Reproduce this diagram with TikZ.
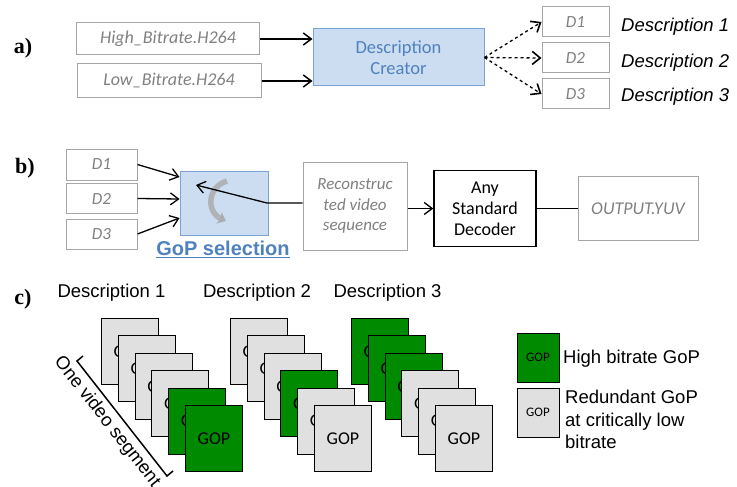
\documentclass[tikz,border=0pt]{standalone}
\usepackage{fontspec}
\setmainfont{Carlito}
\setsansfont{Liberation Sans}
\newfontfamily\labelfont{Liberation Serif}
\usetikzlibrary{arrows.meta}

\definecolor{boxgrey}{HTML}{A6A6A6}
\definecolor{textgrey}{HTML}{808080}
\definecolor{selfill}{HTML}{CCDDF1}
\definecolor{seldraw}{HTML}{7BA3D6}
\definecolor{seltext}{HTML}{4F81BD}
\definecolor{gopgreen}{HTML}{008A00}
\definecolor{gopgrey}{HTML}{E0E0E0}

\tikzset{
  file/.style={draw=boxgrey, line width=1pt, text=textgrey, inner sep=0pt,
    font=\fontsize{18}{21}\selectfont\itshape},
  dfile/.style={file, minimum width=67pt, minimum height=30pt,
    font=\fontsize{17}{20}\selectfont\itshape},
  blue box/.style={draw=seldraw, fill=selfill, line width=1pt, inner sep=0pt},
  gop/.style={draw, line width=1pt, anchor=north west, minimum width=57pt,
    minimum height=66pt, inner sep=0pt, font=\fontsize{18}{21}\selectfont},
  gophi/.style={fill=gopgreen},
  goplo/.style={fill=gopgrey},
  part/.style={font=\labelfont\bfseries\fontsize{22}{26}\selectfont},
  desc/.style={inner sep=0pt, font=\sffamily\fontsize{18.5}{22.5}\selectfont},
}

\begin{document}
\begin{tikzpicture}[x=1pt,y=-1pt,>={Straight Barb[length=8pt,width=12pt]}]
\useasboundingbox (0,0) rectangle (737,487);

% a) creating the descriptions
\node[part] (a) at (23,48) {a)};
\node[file, minimum width=183pt, minimum height=32pt] (high) at (168,39) {High\_Bitrate.H264};
\node[file, minimum width=184pt, minimum height=34pt] (low) at (169,81) {Low\_Bitrate.H264};
\node[blue box, minimum width=171pt, minimum height=57pt, text=seltext, align=center,
  font=\fontsize{18.5}{21}\selectfont] (creator) at (398.5,57.5) {Description\\Creator};
\node[dfile] (d1) at (575.5,22) {D1};
\node[dfile] (d2) at (575.5,58) {D2};
\node[dfile] (d3) at (575.5,94) {D3};
\node[desc, anchor=west] (l1) at (621,27) {\itshape Description 1};
\node[desc, anchor=west] (l2) at (621,63) {\itshape Description 2};
\node[desc, anchor=west] (l3) at (621,97) {\itshape Description 3};

\draw[->, line width=1.5pt] (high.east) -- (high.east -| creator.west);
\draw[->, line width=1.5pt] (low.east) -- (low.east -| creator.west);
\foreach \d in {d1,d2,d3}
  \draw[-{Straight Barb[length=8pt,width=13pt,line width=1.6pt]}, dashed, line width=1.3pt]
    (creator.east) -- (\d.west);

% b) decoding
\node[part] (b) at (25,168) {b)};
\node[dfile, minimum width=71pt, minimum height=31pt] (e1) at (101.5,164.5) {D1};
\node[dfile, minimum width=71pt] (e2) at (101.5,198.5) {D2};
\node[dfile, minimum width=71pt] (e3) at (101.5,234) {D3};
\node[blue box, minimum width=88pt, minimum height=64pt] (sel) at (224,203) {};
\draw[line width=5.5pt, gray!70, opacity=.75, -{Stealth[length=8pt,width=13pt]}]
  (227,181) .. controls (207,187) and (206,212) .. (226,221);
\node[text=seltext, inner sep=0pt, font=\sffamily\bfseries\fontsize{20}{24}\selectfont]
  (seltitle) at (223,249) {\underline{GoP selection}};
\node[file, minimum width=104pt, minimum height=88pt, align=center,
  font=\fontsize{17}{20.5}\selectfont\itshape] (recon) at (355,206) {Reconstruc\\ted video\\sequence};
\node[draw, line width=1.5pt, minimum width=102pt, minimum height=76pt, inner sep=0pt,
  align=center, font=\fontsize{18}{21}\selectfont] (dec) at (485,208.5) {Any\\Standard\\Decoder};
\node[file, minimum width=120pt, minimum height=64pt] (out) at (638,208.5) {OUTPUT.YUV};

\coordinate (fb) at (267,203);
\coordinate (fbtip) at (196,185);
\draw[->, line width=1.3pt] (e1.east) -- ([yshift=26pt]sel.west);
\draw[->, line width=1.3pt] (e2.east) -- ([yshift=4pt]sel.west);
\draw[->, line width=1.3pt] (e3.east) -- ([yshift=-15pt]sel.west);
\draw[->, line width=1.3pt] (recon.west |- fb) -- (fb) -- (fbtip);
\draw[->, line width=1.3pt] (recon.east |- dec.west) -- (dec.west);
\draw[line width=1.3pt] (dec.east) -- (out.west);

% c) GOP layout of the descriptions
\node[part] (c) at (23,299) {c)};
\node[desc] (t1) at (111.5,293) {Description 1};
\node[desc] (t2) at (257,293) {Description 2};
\node[desc] (t3) at (387.5,293) {Description 3};

\foreach \sx/\st/\cols in {101/1/{goplo,goplo,goplo,goplo,gophi,gophi},
                          230/2/{goplo,goplo,goplo,gophi,goplo,goplo},
                          351/3/{gophi,gophi,gophi,goplo,goplo,goplo}}
  \foreach \c [count=\i from 0] in \cols
    \node[gop, \c] (g\st-\i) at (\sx+16.8*\i, 318+17.4*\i) {GOP};

\coordinate (segtop) at (77,361);
\coordinate (segbot) at (167,476);
\draw[line width=1.5pt] ([shift={(6,-5)}]segtop) -- (segtop) -- (segbot) -- ++(6,-5);
\node[desc, rotate=-52] (seg) at (107,422) {One video segment};

% legend
\node[gop, gophi, anchor=center, minimum width=42pt, minimum height=49pt,
  font=\fontsize{13}{15}\selectfont] (khi) at (538,357.5) {GOP};
\node[gop, goplo, anchor=center, minimum width=42pt, minimum height=49pt,
  font=\fontsize{13}{15}\selectfont] (klo) at (538,412.5) {GOP};
\node[desc, anchor=west] (khitext) at (563,359) {High bitrate GoP};
\node[desc, anchor=north west, align=left] (klotext) at (565,390)
  {Redundant GoP\\at critically low\\bitrate};
\end{tikzpicture}
\end{document}
